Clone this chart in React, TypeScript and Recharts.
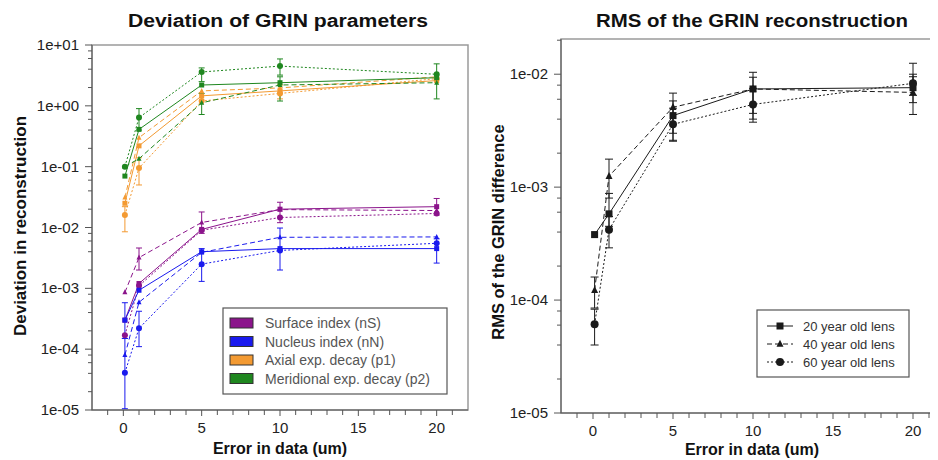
import React from 'react';
import { LineChart, Line, XAxis, YAxis, ErrorBar, ReferenceArea } from 'recharts';

// ---------- data ----------
const errorInData = [0.1, 1, 5, 10, 20];

// Left chart: deviation of GRIN parameters (3 lens ages per parameter)
const surface20 = [3.0e-4, 1.2e-3, 9.3e-3, 0.02, 0.022];
const surface40 = [8.6e-4, 3.2e-3, 0.0121, 0.0197, 0.019];
const surface60 = [1.7e-4, 1.1e-3, 9.0e-3, 0.0146, 0.017];
const nucleus20 = [3.0e-4, 9.3e-4, 4.0e-3, 4.5e-3, 4.5e-3];
const nucleus40 = [8.0e-5, 5.9e-4, 3.9e-3, 6.9e-3, 7.0e-3];
const nucleus60 = [4.1e-5, 2.2e-4, 2.5e-3, 4.2e-3, 5.5e-3];
const axial20 = [0.025, 0.22, 1.46, 1.76, 2.6];
const axial40 = [0.031, 0.3, 1.76, 1.97, 3.0];
const axial60 = [0.016, 0.095, 1.2, 1.6, 2.8];
const meridional20 = [0.07, 0.41, 2.2, 2.4, 2.9];
const meridional40 = [0.1, 0.135, 1.12, 2.2, 2.4];
const meridional60 = [0.1, 0.64, 3.6, 4.5, 3.3];

// error ranges [low, high] (absolute), null = none
type Rng = [number, number] | null;
const surface20Err: Rng[] = [null, null, null, [0.012, 0.026], [0.016, 0.03]];
const surface40Err: Rng[] = [null, [2.0e-3, 4.6e-3], [8e-3, 0.018], null, null];
const surface60Err: Rng[] = [null, null, null, null, null];
const nucleus20Err: Rng[] = [[1.5e-4, 5.8e-4], null, null, null, [2.6e-3, 6.5e-3]];
const nucleus40Err: Rng[] = [null, null, null, [2.0e-3, 9.8e-3], null];
const nucleus60Err: Rng[] = [[1.05e-5, 1.5e-4], [1.1e-4, 4.2e-4], [1.3e-3, 4.5e-3], null, null];
const axial20Err: Rng[] = [null, null, null, [1.3, 2.2], null];
const axial40Err: Rng[] = [null, null, null, null, null];
const axial60Err: Rng[] = [[8.5e-3, 0.022], [0.05, 0.14], null, null, null];
const meridional20Err: Rng[] = [null, null, null, null, [1.3, 4.9]];
const meridional40Err: Rng[] = [null, null, [0.72, 1.6], [1.2, 3.0], null];
const meridional60Err: Rng[] = [null, [0.4, 0.9], [2.5, 4.2], [3.2, 5.9], null];

// Right chart: RMS of the GRIN reconstruction
const rms20 = [3.8e-4, 5.8e-4, 4.3e-3, 7.4e-3, 7.6e-3];
const rms40 = [1.22e-4, 1.25e-3, 5.1e-3, 7.4e-3, 6.9e-3];
const rms60 = [6.1e-5, 4.2e-4, 3.6e-3, 5.4e-3, 8.3e-3];
const rms20Err: Rng[] = [null, [4.5e-4, 8.8e-4], [3.0e-3, 5.8e-3], [4.5e-3, 9.4e-3], [5.6e-3, 1.0e-2]];
const rms40Err: Rng[] = [[8.5e-5, 1.6e-4], [8e-4, 1.77e-3], [2.55e-3, 6.8e-3], [3.76e-3, 1.04e-2], [4.4e-3, 1.25e-2]];
const rms60Err: Rng[] = [[4.0e-5, 8.3e-5], [2.9e-4, 5.5e-4], [2.6e-3, 5.0e-3], [4.0e-3, 7.5e-3], [6.5e-3, 9.5e-3]];

// tick definitions
const leftDecades = [1e-5, 1e-4, 1e-3, 1e-2, 1e-1, 1, 10];
const rightDecades = [1e-5, 1e-4, 1e-3, 1e-2];
const minorMultipliers = [2, 4, 6, 8];
const xMajorTicks = [0, 5, 10, 15, 20];
const xMinorTicks = [-1, 1, 2, 3, 4, 6, 7, 8, 9, 11, 12, 13, 14, 16, 17, 18, 19, 21];

const leftLegend = ['Surface index (nS)', 'Nucleus index (nN)', 'Axial exp. decay (p1)', 'Meridional exp. decay (p2)'];
const rightLegend = ['20 year old lens', '40 year old lens', '60 year old lens'];

// ---------- styles ----------
const FONT = '"Liberation Sans", Arial, Helvetica, sans-serif';
const C_SURF = '#8b148b';
const C_NUC = '#1a1aee';
const C_AX = '#f39a32';
const C_MER = '#1f871f';
const C_BLACK = '#1a1a1a';
const DASH_SOLID: string | undefined = undefined;
const DASH_DASHED = '5 3';
const DASH_DOTTED = '2 2';

type Shape = 'square' | 'triangle' | 'circle';
interface SeriesDef {
  key: string;
  values: number[];
  err: Rng[];
  color: string;
  dash?: string;
  shape: Shape;
}

const leftSeries: SeriesDef[] = [
  { key: 's20', values: surface20, err: surface20Err, color: C_SURF, dash: DASH_SOLID, shape: 'square' },
  { key: 's40', values: surface40, err: surface40Err, color: C_SURF, dash: DASH_DASHED, shape: 'triangle' },
  { key: 's60', values: surface60, err: surface60Err, color: C_SURF, dash: DASH_DOTTED, shape: 'circle' },
  { key: 'n20', values: nucleus20, err: nucleus20Err, color: C_NUC, dash: DASH_SOLID, shape: 'square' },
  { key: 'n40', values: nucleus40, err: nucleus40Err, color: C_NUC, dash: DASH_DASHED, shape: 'triangle' },
  { key: 'n60', values: nucleus60, err: nucleus60Err, color: C_NUC, dash: DASH_DOTTED, shape: 'circle' },
  { key: 'a20', values: axial20, err: axial20Err, color: C_AX, dash: DASH_SOLID, shape: 'square' },
  { key: 'a40', values: axial40, err: axial40Err, color: C_AX, dash: DASH_DASHED, shape: 'triangle' },
  { key: 'a60', values: axial60, err: axial60Err, color: C_AX, dash: DASH_DOTTED, shape: 'circle' },
  { key: 'm20', values: meridional20, err: meridional20Err, color: C_MER, dash: DASH_SOLID, shape: 'square' },
  { key: 'm40', values: meridional40, err: meridional40Err, color: C_MER, dash: DASH_DASHED, shape: 'triangle' },
  { key: 'm60', values: meridional60, err: meridional60Err, color: C_MER, dash: DASH_DOTTED, shape: 'circle' },
];

const rightSeries: SeriesDef[] = [
  { key: 'r20', values: rms20, err: rms20Err, color: C_BLACK, dash: DASH_SOLID, shape: 'square' },
  { key: 'r40', values: rms40, err: rms40Err, color: C_BLACK, dash: DASH_DASHED, shape: 'triangle' },
  { key: 'r60', values: rms60, err: rms60Err, color: C_BLACK, dash: DASH_DOTTED, shape: 'circle' },
];

const buildRows = (series: SeriesDef[]) =>
  errorInData.map((x, i) => {
    const row: Record<string, any> = { x };
    series.forEach((s) => {
      const v = s.values[i];
      row[s.key] = v;
      const e = s.err[i];
      row[s.key + 'Err'] = e ? [v - e[0], e[1] - v] : null;
    });
    return row;
  });

const leftRows = buildRows(leftSeries);
const rightRows = buildRows(rightSeries);

const buildLogTicks = (decades: number[], max: number) => {
  const t: number[] = [];
  decades.forEach((d) => {
    t.push(d);
    minorMultipliers.forEach((m) => {
      const v = d * m;
      if (v < max) t.push(v);
    });
  });
  return t.sort((a, b) => a - b);
};

const leftYTicks = buildLogTicks(leftDecades, 10);
const rightYTicks = buildLogTicks(rightDecades, 0.0205);
const xTicks = [...xMajorTicks, ...xMinorTicks].sort((a, b) => a - b);

const isDecade = (v: number) => {
  const l = Math.log10(v);
  return Math.abs(l - Math.round(l)) < 1e-6;
};
const fmtExp = (v: number) => {
  const e = Math.round(Math.log10(v));
  return `1e${e < 0 ? '-' : '+'}${String(Math.abs(e)).padStart(2, '0')}`;
};

const YTick = (props: any) => {
  const { x, y, payload } = props;
  const v = payload.value;
  const major = isDecade(v);
  return (
    <g>
      <line x1={x - (major ? 7 : 4)} x2={x} y1={y} y2={y} stroke="#555" strokeWidth={1} />
      {major && (
        <text x={x - 13} y={y} dy={5} textAnchor="end" fontSize={15} fontFamily={FONT} fill="#222">
          {fmtExp(v)}
        </text>
      )}
    </g>
  );
};

const XTick = (props: any) => {
  const { x, y, payload } = props;
  const v = payload.value;
  const major = xMajorTicks.includes(v);
  return (
    <g>
      <line x1={x} x2={x} y1={y} y2={y + (major ? 6 : 5)} stroke="#555" strokeWidth={1} />
      {major && (
        <text x={x} y={y + 23} textAnchor="middle" fontSize={15} fontFamily={FONT} fill="#222">
          {String(v)}
        </text>
      )}
    </g>
  );
};

const markerShape = (shape: Shape, color: string, size: number, cx: number, cy: number, key?: string) => {
  if (shape === 'square')
    return <rect key={key} x={cx - size / 2} y={cy - size / 2} width={size} height={size} fill={color} />;
  if (shape === 'triangle')
    return (
      <polygon
        key={key}
        points={`${cx},${cy - size * 0.6} ${cx - size / 2},${cy + size * 0.4} ${cx + size / 2},${cy + size * 0.4}`}
        fill={color}
      />
    );
  return <circle key={key} cx={cx} cy={cy} r={size / 2} fill={color} />;
};

const makeDot = (shape: Shape, color: string, size: number) => (props: any) => {
  const { cx, cy, index } = props;
  const k = `d-${index}`;
  if (cx == null || cy == null || isNaN(cx) || isNaN(cy)) return <g key={k} />;
  return markerShape(shape, color, size, cx, cy, k);
};

const renderLines = (series: SeriesDef[], size: number, capWidth: number) =>
  series.map((s) => (
    <Line
      key={s.key}
      dataKey={s.key}
      type="linear"
      stroke={s.color}
      strokeWidth={1}
      strokeDasharray={s.dash}
      dot={makeDot(s.shape, s.color, s.shape === 'circle' ? size : size - 1) as any}
      activeDot={false}
      isAnimationActive={false}
    >
      <ErrorBar dataKey={s.key + 'Err'} direction="y" width={capWidth} stroke={s.color} strokeWidth={1} />
    </Line>
  ));

export default function App() {
  return (
    <div style={{ position: 'relative', left: -8, top: -8, width: 938, height: 460, overflow: 'hidden', background: '#fff' }}>
      {/* Left chart */}
      <div style={{ position: 'absolute', left: 0, top: 0 }}>
        <LineChart width={480} height={460} data={leftRows} margin={{ top: 45, right: 12, bottom: 20, left: 32 }}>
          <ReferenceArea x1={-2} x2={22} y1={1e-5} y2={10} fill="none" stroke="#9a9a9a" strokeWidth={1.5} ifOverflow="visible" />
          <XAxis
            dataKey="x"
            type="number"
            domain={[-2, 22]}
            ticks={xTicks}
            interval={0}
            height={30}
            tickSize={0}
            tickMargin={0}
            tickLine={false}
            axisLine={{ stroke: '#555' }}
            tick={XTick}
            allowDataOverflow
          />
          <YAxis
            type="number"
            scale="log"
            domain={[1e-5, 10]}
            ticks={leftYTicks}
            interval={0}
            width={60}
            tickSize={0}
            tickMargin={0}
            tickLine={false}
            axisLine={{ stroke: '#555' }}
            tick={YTick}
            allowDataOverflow
          />
          {renderLines(leftSeries, 6, 3)}
        </LineChart>
      </div>

      {/* Right chart */}
      <div style={{ position: 'absolute', left: 480, top: 0 }}>
        <LineChart width={470} height={460} data={rightRows} margin={{ top: 39, right: 5, bottom: 17, left: 21 }}>
          <ReferenceArea x1={-2} x2={22} y1={1e-5} y2={0.0205} fill="none" stroke="#9a9a9a" strokeWidth={1.5} ifOverflow="visible" />
          <XAxis
            dataKey="x"
            type="number"
            domain={[-2, 22]}
            ticks={xTicks}
            interval={0}
            height={30}
            tickSize={0}
            tickMargin={0}
            tickLine={false}
            axisLine={{ stroke: '#555' }}
            tick={XTick}
            allowDataOverflow
          />
          <YAxis
            type="number"
            scale="log"
            domain={[1e-5, 0.0205]}
            ticks={rightYTicks}
            interval={0}
            width={60}
            tickSize={0}
            tickMargin={0}
            tickLine={false}
            axisLine={{ stroke: '#555' }}
            tick={YTick}
            allowDataOverflow
          />
          {renderLines(rightSeries, 8, 4)}
        </LineChart>
      </div>

      {/* Titles, axis labels, legends */}
      <svg width={938} height={460} style={{ position: 'absolute', left: 0, top: 0, pointerEvents: 'none' }} fontFamily={FONT}>
        <text x={278} y={27} textAnchor="middle" fontSize={18} fontWeight="bold" fill="#111" textLength={300} lengthAdjust="spacingAndGlyphs">
          Deviation of GRIN parameters
        </text>
        <text x={752} y={27} textAnchor="middle" fontSize={18} fontWeight="bold" fill="#111" textLength={312} lengthAdjust="spacingAndGlyphs">
          RMS of the GRIN reconstruction
        </text>
        <text x={20} y={226} transform="rotate(-90 20 226)" textAnchor="middle" dominantBaseline="central" fontSize={17} fontWeight="bold" fill="#111">
          Deviation in reconstruction
        </text>
        <text x={498} y={232} transform="rotate(-90 498 232)" textAnchor="middle" dominantBaseline="central" fontSize={16.5} fontWeight="bold" fill="#111">
          RMS of the GRIN difference
        </text>
        <text x={280} y={454} textAnchor="middle" fontSize={16} fontWeight="bold" fill="#111">
          Error in data (um)
        </text>
        <text x={752} y={455} textAnchor="middle" fontSize={16} fontWeight="bold" fill="#111">
          Error in data (um)
        </text>

        {/* left legend */}
        <rect x={223} y={308} width={224} height={86} fill="#fff" stroke="#555" strokeWidth={1.2} />
        {leftLegend.map((label, i) => (
          <g key={label}>
            <rect x={230} y={318 + 18.5 * i} width={23} height={10} fill={[C_SURF, C_NUC, C_AX, C_MER][i]} stroke="#333" strokeWidth={1} />
            <text x={265} y={328 + 18.5 * i} fontSize={14} fill="#555">
              {label}
            </text>
          </g>
        ))}

        {/* right legend */}
        <rect x={757} y={310} width={152} height={67} fill="#fff" stroke="#555" strokeWidth={1.2} />
        {rightLegend.map((label, i) => {
          const cy = 326 + 18 * i;
          const s = rightSeries[i];
          return (
            <g key={label}>
              <line x1={767} x2={793} y1={cy} y2={cy} stroke={C_BLACK} strokeWidth={1} strokeDasharray={s.dash} />
              {markerShape(s.shape, C_BLACK, s.shape === 'circle' ? 8 : 7, 780, cy)}
              <text x={803} y={cy + 4.5} fontSize={13} fill="#333">
                {label}
              </text>
            </g>
          );
        })}
      </svg>
    </div>
  );
}
